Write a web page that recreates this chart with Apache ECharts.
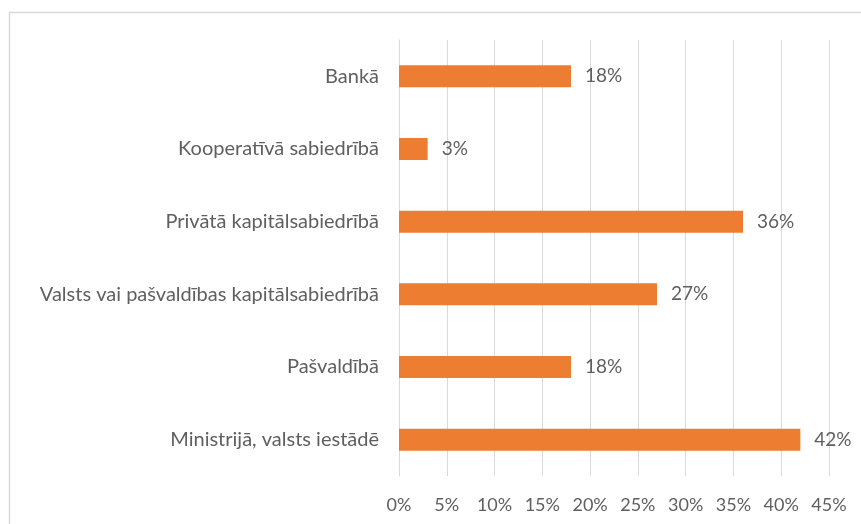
<!DOCTYPE html>
<html>
<head>
<meta charset="utf-8">
<script src="https://cdn.jsdelivr.net/npm/echarts@6/dist/echarts.min.js"></script>
<style>
  html, body { margin: 0; padding: 0; background: #ffffff; }
  #chart { width: 861px; height: 524px; }
</style>
</head>
<body>
<div id="chart"></div>
<script>
// Categories listed bottom to top (category axis starts at the bottom)
const categories = [
  'Ministrijā, valsts iestādē',
  'Pašvaldībā',
  'Valsts vai pašvaldības kapitālsabiedrībā',
  'Privātā kapitālsabiedrībā',
  'Kooperatīvā sabiedrībā',
  'Bankā'
];
const shares = [42, 18, 27, 36, 3, 18];
const tickMax = 45;
const tickStep = 5;

const textColor = '#5f5f5f';
const fontFamily = 'Lato, "Open Sans", sans-serif';

const chart = echarts.init(document.getElementById('chart'));
chart.setOption({
  backgroundColor: '#ffffff',
  animation: false,
  graphic: [{
    type: 'rect',
    shape: { x: 9.5, y: 12.5, width: 900, height: 600 },
    style: { fill: 'none', stroke: '#d9d9d9', lineWidth: 1.5 },
    silent: true
  }],
  grid: { left: 399, right: 32, top: 40, bottom: 48, containLabel: false },
  xAxis: {
    type: 'value',
    min: 0,
    max: tickMax,
    interval: tickStep,
    axisLine: { show: false },
    axisTick: { show: false },
    splitLine: { show: true, lineStyle: { color: '#d9d9d9', width: 1 } },
    axisLabel: {
      formatter: '{value}%',
      color: textColor,
      fontFamily: fontFamily,
      fontSize: 18,
      margin: 20
    }
  },
  yAxis: {
    type: 'category',
    data: categories,
    axisLine: { show: true, lineStyle: { color: '#d9d9d9', width: 1 } },
    axisTick: { show: false },
    axisLabel: {
      color: textColor,
      fontFamily: fontFamily,
      fontSize: 20,
      margin: 20
    }
  },
  series: [{
    type: 'bar',
    data: shares,
    barWidth: 22,
    itemStyle: { color: '#ED7D31' },
    label: {
      show: true,
      position: 'right',
      distance: 14,
      formatter: '{c}%',
      color: textColor,
      fontFamily: fontFamily,
      fontSize: 19
    }
  }]
});
</script>
</body>
</html>
